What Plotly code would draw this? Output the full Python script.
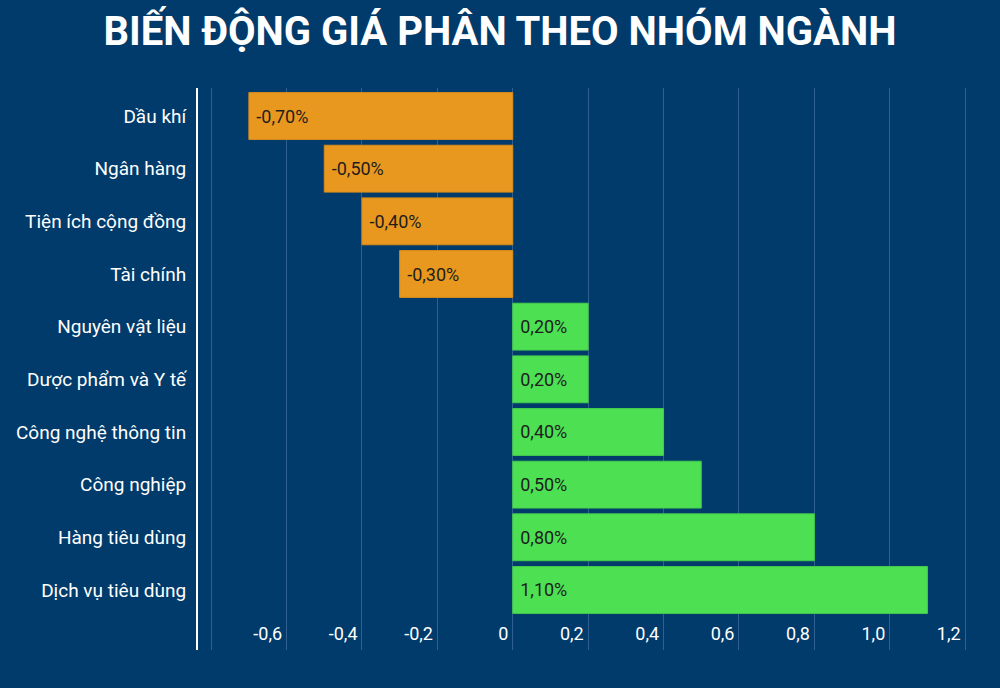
import plotly.graph_objects as go

# Price change by industry group (%)
sectors = ["Dầu khí", "Ngân hàng", "Tiện ích cộng đồng", "Tài chính",
           "Nguyên vật liệu", "Dược phẩm và Y tế", "Công nghệ thông tin",
           "Công nghiệp", "Hàng tiêu dùng", "Dịch vụ tiêu dùng"]
changes = [-0.70, -0.50, -0.40, -0.30, 0.20, 0.20, 0.40, 0.50, 0.80, 1.10]

grid_vals = [-0.8, -0.6, -0.4, -0.2, 0, 0.2, 0.4, 0.6, 0.8, 1.0, 1.2]
grid_text = ["", "-0,6", "-0,4", "-0,2", "0", "0,2", "0,4", "0,6", "0,8", "1,0", "1,2"]

BG = "#003B6B"
ORANGE = "#E9981F"
GREEN = "#4DE053"


def fmt(v):
    return "&nbsp;" + f"{v:.2f}".replace(".", ",") + "%"


neg = [(s, v) for s, v in zip(sectors, changes) if v < 0]
pos = [(s, v) for s, v in zip(sectors, changes) if v >= 0]

fig = go.Figure()

# Negative bars: label at the tip (left end)
fig.add_trace(go.Bar(
    y=[s for s, v in neg], x=[v for s, v in neg], orientation="h",
    marker=dict(color=ORANGE, line=dict(color="#D88C1B", width=1)),
    text=[fmt(v) for s, v in neg], textposition="inside", insidetextanchor="end",
    textfont=dict(color="#1E1E1E", size=18, family="Roboto"),
    hoverinfo="skip"
))

# Positive bars: label at the base (near zero)
fig.add_trace(go.Bar(
    y=[s for s, v in pos], x=[v for s, v in pos], orientation="h",
    marker=dict(color=GREEN, line=dict(color="#45CC4B", width=1)),
    text=[fmt(v) for s, v in pos], textposition="inside", insidetextanchor="start",
    textfont=dict(color="#1E1E1E", size=18, family="Roboto"),
    hoverinfo="skip"
))

fig.update_layout(
    width=1000, height=688,
    paper_bgcolor=BG, plot_bgcolor=BG,
    barmode="relative", bargap=0.11,
    showlegend=False,
    margin=dict(l=198, r=10, t=88, b=38),
    font=dict(family="Roboto", color="white"),
    title=dict(text="<b>BIẾN ĐỘNG GIÁ PHÂN THEO NHÓM NGÀNH</b>",
               x=0.5, xanchor="center", y=0.955, yanchor="middle",
               font=dict(size=40, color="white", family="Roboto")),
)

fig.update_xaxes(
    range=[-0.835, 1.266],
    tickvals=grid_vals, ticktext=[t + "&nbsp;" for t in grid_text],
    ticklabelposition="inside left",
    tickfont=dict(size=18, color="white"),
    showgrid=True, gridcolor="#2F6090", gridwidth=1,
    zeroline=False, showline=False, ticks="",
)

fig.update_yaxes(
    categoryorder="array", categoryarray=sectors,
    range=[10.14, -0.532],
    tickfont=dict(size=19, color="white"),
    showline=True, linecolor="white", linewidth=2,
    showgrid=False, ticks="", ticklabelstandoff=6,
)

fig.write_html("out.html", config={"displayModeBar": False},
               post_script="document.body.style.margin='0';")
